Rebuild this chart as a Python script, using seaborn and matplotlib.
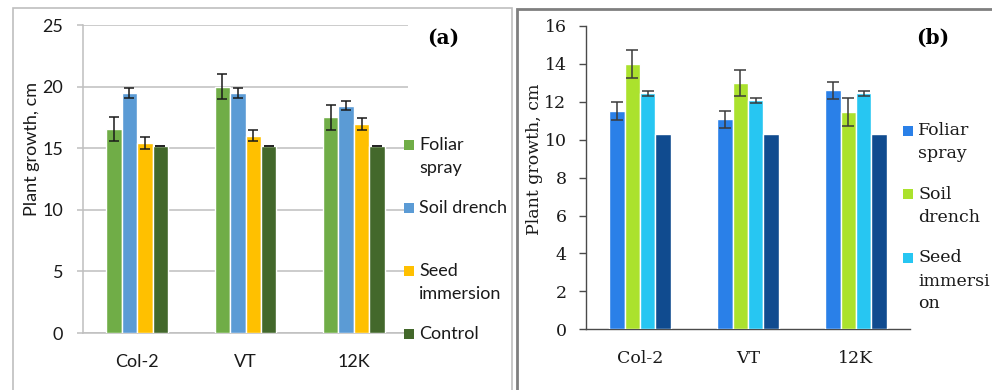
import matplotlib
matplotlib.use("Agg")
import matplotlib.pyplot as plt
from matplotlib.patches import Rectangle
import seaborn as sns
import pandas as pd

# ---------------- data ----------------
categories = ["Col-2", "VT", "12K"]

a_series = ["Foliar spray", "Soil drench", "Seed immersion", "Control"]
a_foliar = [16.55, 20.0, 17.5]
a_soil = [19.5, 19.5, 18.45]
a_seed = [15.45, 16.0, 16.95]
a_control = [15.2, 15.2, 15.2]
a_foliar_err = [1.0, 1.0, 1.0]
a_soil_err = [0.4, 0.4, 0.37]
a_seed_err = [0.48, 0.45, 0.48]
a_control_err = [0.0, 0.0, 0.0]
a_legend_labels = [["Foliar", "spray"], ["Soil drench"], ["Seed", "immersion"], ["Control"]]
a_yticks = [0, 5, 10, 15, 20, 25]

b_series = ["Foliar spray", "Soil drench", "Seed immersion", "Control"]
b_foliar = [11.5, 11.08, 12.6]
b_soil = [14.0, 13.0, 11.47]
b_seed = [12.45, 12.08, 12.45]
b_control = [10.28, 10.28, 10.28]
b_foliar_err = [0.47, 0.45, 0.45]
b_soil_err = [0.74, 0.7, 0.75]
b_seed_err = [0.12, 0.12, 0.12]
b_legend_labels = [["Foliar", "spray"], ["Soil", "drench"], ["Seed", "immersi", "on"]]
b_yticks = [0, 2, 4, 6, 8, 10, 12, 14, 16]

a_colors = ["#70AD47", "#5B9BD5", "#FFC000", "#43682B"]
b_colors = ["#2A80E8", "#ABE22D", "#27C6F2", "#104B8F"]

# ---------------- figure ----------------
sns.set_theme(style="white")
W, H = 992, 390
fig = plt.figure(figsize=(W / 100, H / 100), dpi=100)
fig.patch.set_facecolor("white")


def fx(px):
    return px / W


def fy(py):
    return 1 - py / H


# panel borders
fig.add_artist(Rectangle((fx(13), -0.1), fx(512) - fx(13), fy(8) + 0.1, transform=fig.transFigure,
                         fill=False, edgecolor="#BFBFBF", lw=1.2))
fig.add_artist(Rectangle((fx(517), -0.1), 0.6, fy(9) + 0.1, transform=fig.transFigure,
                         fill=False, edgecolor="#7F7F7F", lw=2.0))


def make_df(series, values):
    rows = []
    for s, vals in zip(series, values):
        for c, v in zip(categories, vals):
            rows.append({"cat": c, "series": s, "value": v})
    return pd.DataFrame(rows)


# ---------------- panel (a) ----------------
sans = ["Lato", "DejaVu Sans"]
fa = 13
axa = fig.add_axes([fx(83), fy(333), fx(408) - fx(83), (333 - 25) / H])
dfa = make_df(a_series, [a_foliar, a_soil, a_seed, a_control])
sns.barplot(data=dfa, x="cat", y="value", hue="series", hue_order=a_series, order=categories,
            palette=a_colors, width=0.57, gap=0, saturation=1, errorbar=None, legend=False, ax=axa,
            zorder=3)
for cont, err in zip(axa.containers, [a_foliar_err, a_soil_err, a_seed_err, a_control_err]):
    xs = [b.get_x() + b.get_width() / 2 for b in cont]
    ys = [b.get_height() for b in cont]
    axa.errorbar(xs, ys, yerr=err, fmt="none", ecolor="#1a1a1a", elinewidth=1.1, capsize=3.6,
                 capthick=1.1, zorder=4)
axa.set_xlim(-0.5, 2.5)
axa.set_ylim(0, 25)
axa.set_yticks(a_yticks)
axa.set_yticklabels([str(t) for t in a_yticks], family=sans, fontsize=fa, color="#1a1a1a")
axa.set_xticks(range(len(categories)))
axa.set_xticklabels(categories, family=sans, fontsize=fa, color="#1a1a1a")
axa.grid(axis="y", color="#BFBFBF", lw=1.1, zorder=0)
axa.set_axisbelow(True)
for s in ["top", "right"]:
    axa.spines[s].set_visible(False)
axa.spines["left"].set_color("#BFBFBF")
axa.spines["left"].set_linewidth(1.1)
axa.spines["bottom"].set_color("#BFBFBF")
axa.spines["bottom"].set_linewidth(1.1)
axa.tick_params(axis="y", which="major", direction="out", length=4.3, width=1.1, color="#BFBFBF", pad=10, left=True)
axa.tick_params(axis="x", length=0, pad=15)
axa.set_xlabel("")
axa.set_ylabel("Plant growth, cm", family=sans, fontsize=fa, color="#1a1a1a")
axa.yaxis.set_label_coords((40 - 83) / 325, (333 - 149) / 308)
axa.set_facecolor("white")
fig.text(fx(443), fy(38), "(a)", family=["DejaVu Serif"], fontweight="bold", fontsize=14.5,
         ha="center", va="center", color="black")

for i, (lines, col) in enumerate(zip(a_legend_labels, a_colors)):
    cy = 145 + 63 * i
    fig.add_artist(Rectangle((fx(404), fy(cy + 5)), fx(10), 10 / H, transform=fig.transFigure,
                             facecolor=col, edgecolor="none"))
    for j, t in enumerate(lines):
        fig.text(fx(419), fy(cy + 23 * j), t, family=sans, fontsize=fa, ha="left", va="center",
                 color="#1a1a1a")

# ---------------- panel (b) ----------------
serif = ["DejaVu Serif"]
fb = 12.5
axb = fig.add_axes([fx(586), fy(329.3), fx(910) - fx(586), (329.3 - 26) / H])
dfb = make_df(b_series, [b_foliar, b_soil, b_seed, b_control])
sns.barplot(data=dfb, x="cat", y="value", hue="series", hue_order=b_series, order=categories,
            palette=b_colors, width=0.57, gap=0, saturation=1, errorbar=None, legend=False, ax=axb,
            zorder=3)
for cont, err in zip(axb.containers[:3], [b_foliar_err, b_soil_err, b_seed_err]):
    xs = [b.get_x() + b.get_width() / 2 for b in cont]
    ys = [b.get_height() for b in cont]
    axb.errorbar(xs, ys, yerr=err, fmt="none", ecolor="#3a3a3a", elinewidth=1.1, capsize=4.3,
                 capthick=1.1, zorder=4)
axb.set_xlim(-0.5, 2.5)
axb.set_ylim(0, 16)
axb.set_yticks(b_yticks)
axb.set_yticklabels([str(t) for t in b_yticks], family=serif, fontsize=fb, color="#1a1a1a")
axb.set_xticks(range(len(categories)))
axb.set_xticklabels(categories, family=serif, fontsize=fb, color="#1a1a1a")
for s in ["top", "right"]:
    axb.spines[s].set_visible(False)
for s in ["left", "bottom"]:
    axb.spines[s].set_color("#4a4a4a")
    axb.spines[s].set_linewidth(1.0)
axb.tick_params(axis="y", direction="out", length=5, width=1.0, color="#4a4a4a", pad=9, left=True)
axb.tick_params(axis="x", length=0, pad=15)
axb.set_xlabel("")
axb.set_ylabel("Plant growth, cm", family=serif, fontsize=fb, color="#1a1a1a")
axb.yaxis.set_label_coords((543 - 586) / 324, (329.3 - 159) / 303.3)
axb.set_facecolor("white")
fig.text(fx(933), fy(38), "(b)", family=["DejaVu Serif"], fontweight="bold", fontsize=14.5,
         ha="center", va="center", color="black")

for i, (lines, col) in enumerate(zip(b_legend_labels, b_colors[:3])):
    cy = 131 + 63.5 * i
    fig.add_artist(Rectangle((fx(903), fy(cy + 5)), fx(10), 10 / H, transform=fig.transFigure,
                             facecolor=col, edgecolor="none"))
    for j, t in enumerate(lines):
        fig.text(fx(918), fy(cy + 23 * j), t, family=serif, fontsize=fb, ha="left", va="center",
                 color="#1a1a1a")

fig.savefig("out.png", dpi=100, facecolor="white")
